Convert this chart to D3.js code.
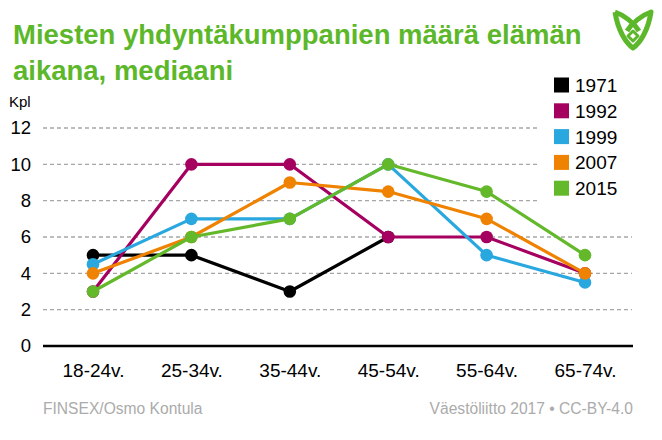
<!DOCTYPE html>
<html><head><meta charset="utf-8">
<script src="https://cdn.jsdelivr.net/npm/d3@7"></script>
<style>html,body{margin:0;padding:0;background:#fff;}svg{display:block;font-family:"Liberation Sans",Arial,sans-serif;}</style>
</head><body>
<svg id="c" width="662" height="440"></svg>
<script>
const categories = ["18-24v.","25-34v.","35-44v.","45-54v.","55-64v.","65-74v."];
const years = ["1971","1992","1999","2007","2015"];
const v1971 = [5,5,3,6,null,null];
const v1992 = [3,10,10,6,6,4];
const v1999 = [4.5,7,7,10,5,3.5];
const v2007 = [4,6,9,8.5,7,4];
const v2015 = [3,6,7,10,8.5,5];
const colors = ["#000000","#a5005f","#29a8e0","#ef8200","#63b92a"];
const yTicks = [0,2,4,6,8,10,12];
const seriesValues = [v1971,v1992,v1999,v2007,v2015];

const svg = d3.select("#c");
const x = d3.scalePoint().domain(categories).range([93,585]);
const y = d3.scaleLinear().domain([0,12]).range([346,128]);

// title
const green = "#5cb82a";
svg.append("text").attr("x",13).attr("y",44).attr("fill",green).attr("font-weight","bold").attr("font-size",27.5).text("Miesten yhdyntäkumppanien määrä elämän");
svg.append("text").attr("x",13).attr("y",80).attr("fill",green).attr("font-weight","bold").attr("font-size",27.5).text("aikana, mediaani");

// logo
const lg = svg.append("g").attr("transform","translate(612,9)").attr("fill","none").attr("stroke",green).attr("stroke-width",5).attr("stroke-linejoin","round");
lg.append("path").attr("d","M3,3 C6,22 14,34 21,39 C28,34 36,22 39,3 C30,6 20,14 15,22 M3,3 C12,6 22,14 27,22");
lg.append("path").attr("d","M21,22 L26,27 L21,32 L16,27 Z").attr("stroke-width",3);

// grid
const gridG = svg.append("g");
yTicks.filter(d=>d>0).forEach(t=>{
  gridG.append("line").attr("x1",43).attr("x2", t>=8 ? 540 : 632).attr("y1",y(t)).attr("y2",y(t))
    .attr("stroke","#a6a6a6").attr("stroke-width",1.3).attr("stroke-dasharray","4,3");
});
// y axis labels
const yAxis = d3.axisLeft(y).tickValues(yTicks).tickSize(0).tickPadding(0);
const ya = svg.append("g").attr("transform","translate(31,0)").call(yAxis);
ya.select(".domain").remove();
ya.selectAll("text").attr("font-size",18.5).attr("fill","#000").attr("font-family","Liberation Sans, Arial, sans-serif");
svg.append("text").attr("x",9).attr("y",107).attr("font-size",15).attr("fill","#000").text("Kpl");

// baseline
svg.append("line").attr("x1",43).attr("x2",633).attr("y1",y(0)).attr("y2",y(0)).attr("stroke","#000").attr("stroke-width",2.5);
// x axis
const xAxis = d3.axisBottom(x).tickSize(0).tickPadding(0);
const xa = svg.append("g").attr("transform","translate(0,377)").call(xAxis);
xa.select(".domain").remove();
xa.selectAll("text").attr("font-size",19).attr("fill","#000").attr("dy",0).attr("font-family","Liberation Sans, Arial, sans-serif");

// lines
const line = d3.line().defined(d=>d.v!=null).x(d=>x(d.c)).y(d=>y(d.v));
seriesValues.forEach((vals,i)=>{
  const pts = categories.map((c,j)=>({c,v:vals[j]}));
  const g = svg.append("g");
  g.append("path").datum(pts).attr("d",line).attr("fill","none").attr("stroke",colors[i]).attr("stroke-width",3.2).attr("stroke-linejoin","round");
  g.selectAll("circle").data(pts.filter(d=>d.v!=null)).join("circle")
    .attr("cx",d=>x(d.c)).attr("cy",d=>y(d.v)).attr("r",6.3).attr("fill",colors[i]);
});

// legend
years.forEach((yr,i)=>{
  const cy = 85 + i*25.8;
  svg.append("rect").attr("x",554).attr("y",cy-7.5).attr("width",15).attr("height",15).attr("fill",colors[i]);
  svg.append("text").attr("x",575).attr("y",cy+7).attr("font-size",19).attr("fill","#000").text(yr);
});

// footer
svg.append("text").attr("x",43).attr("y",414).attr("font-size",15.6).attr("fill","#ababab").text("FINSEX/Osmo Kontula");
svg.append("text").attr("x",633).attr("y",414).attr("font-size",15.6).attr("fill","#ababab").attr("text-anchor","end").text("Väestöliitto 2017 • CC-BY-4.0");
</script>
</body></html>
